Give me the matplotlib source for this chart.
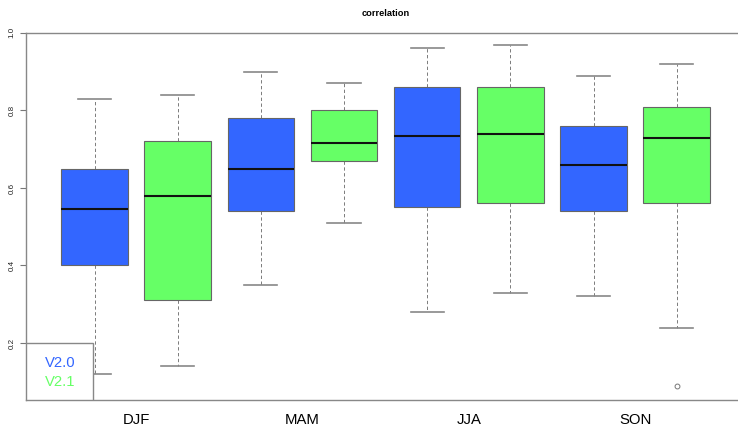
import matplotlib.pyplot as plt
from matplotlib.patches import Rectangle

plt.rcParams['font.family'] = ['Liberation Sans', 'DejaVu Sans']

seasons = ['DJF', 'MAM', 'JJA', 'SON']
versions = ['V2.0', 'V2.1']
colors = ['#3366FF', '#66FF66']

# one entry per box: DJF V2.0, DJF V2.1, MAM V2.0, MAM V2.1, ...
whislo = [0.12, 0.14, 0.35, 0.51, 0.28, 0.33, 0.32, 0.24]
q1 = [0.40, 0.31, 0.54, 0.67, 0.55, 0.56, 0.54, 0.56]
med = [0.545, 0.58, 0.65, 0.715, 0.735, 0.74, 0.66, 0.73]
q3 = [0.65, 0.72, 0.78, 0.80, 0.86, 0.86, 0.76, 0.81]
whishi = [0.83, 0.84, 0.90, 0.87, 0.96, 0.97, 0.89, 0.92]
fliers = [[], [], [], [], [], [], [], [0.09]]

stats = []
for i in range(len(med)):
    stats.append(dict(whislo=whislo[i], q1=q1[i], med=med[i], q3=q3[i],
                      whishi=whishi[i], fliers=fliers[i]))

fig = plt.figure(figsize=(7.38, 4.32), dpi=100)
ax = fig.add_axes([26.3 / 738, 32 / 432, 718.6 / 738, 367.5 / 432])

positions = list(range(1, len(med) + 1))
bp = ax.bxp(stats, positions=positions, widths=0.8, patch_artist=True,
            boxprops=dict(edgecolor='#666666', linewidth=0.8),
            medianprops=dict(color='#111111', linewidth=1.5),
            whiskerprops=dict(color='#666666', linewidth=0.6, linestyle=(0, (4, 3))),
            capprops=dict(color='#888888', linewidth=1.2),
            flierprops=dict(marker='o', markerfacecolor='none',
                            markeredgecolor='#777777', markersize=3.5,
                            markeredgewidth=0.7))
for i, box in enumerate(bp['boxes']):
    box.set_facecolor(colors[i % 2])

ax.set_xlim(0.18, 8.82)
ax.set_ylim(0.053, 1.001)

# season labels sit between each pair of boxes
ax.set_xticks([1.5, 3.5, 5.5, 7.5])
ax.set_xticklabels(seasons, fontsize=10.7)
ax.tick_params(axis='x', length=0, pad=9.5)

ax.set_yticks([0.2, 0.4, 0.6, 0.8, 1.0])
ax.set_yticklabels(['0.2', '0.4', '0.6', '0.8', '1.0'], rotation=90,
                   va='center', fontsize=5.8, color='#222222')
ax.tick_params(axis='y', length=4, width=0.8, color='#777777', pad=3.5)

for s in ax.spines.values():
    s.set_color('#888888')
    s.set_linewidth(1)

fig.text(385.6 / 738, 1 - 13.5 / 432, 'correlation', ha='center', va='center',
         fontsize=6.7, fontweight='bold')

# legend box in the lower left corner
ax.add_patch(Rectangle((0, 0), 0.0924, 0.1543, transform=ax.transAxes,
                       facecolor='white', edgecolor='#888888', linewidth=1,
                       zorder=5))
ax.text(0.0476, 0.1007, versions[0], color=colors[0], transform=ax.transAxes,
        ha='center', va='center', fontsize=10.7, zorder=6)
ax.text(0.0476, 0.049, versions[1], color=colors[1], transform=ax.transAxes,
        ha='center', va='center', fontsize=10.7, zorder=6)

fig.savefig('out.png', dpi=100)
